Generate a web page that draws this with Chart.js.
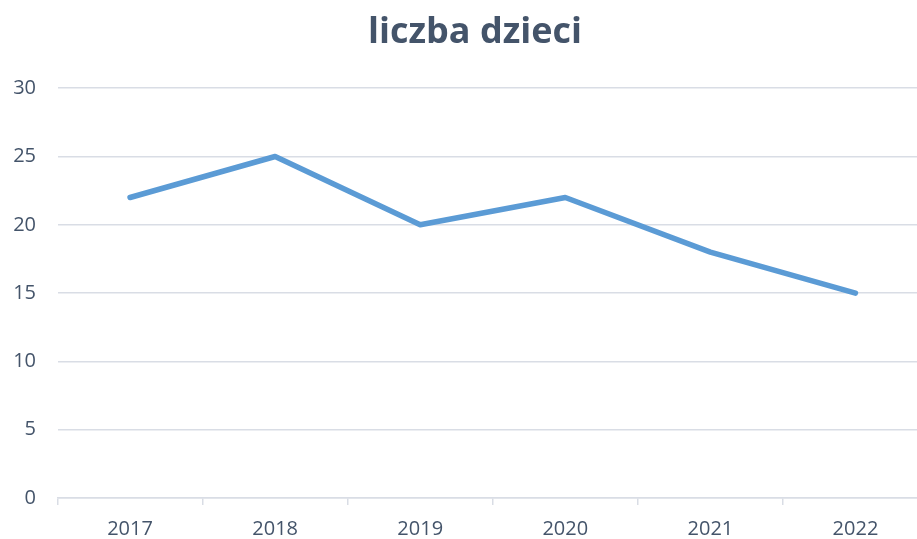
<!DOCTYPE html>
<html><head><meta charset="utf-8">
<script src="https://cdn.jsdelivr.net/npm/chart.js@4"></script>
<style>html,body{margin:0;padding:0;overflow:hidden;background:#fff;width:917px;height:539px}</style>
</head><body>
<canvas id="c" width="950" height="539"></canvas>
<script>
const categories = ['2017','2018','2019','2020','2021','2022'];
const values = [22, 25, 20, 22, 18, 15];
const yTicks = [0, 5, 10, 15, 20, 25, 30];
const titleText = 'liczba dzieci';

const textColor = '#44546A';
const gridColor = '#D9DDE5';
const centerTitle = {
  id: 'centerTitle',
  beforeDraw(chart) { if (chart.titleBlock) { chart.titleBlock.left = 22; } }
};
new Chart(document.getElementById('c'), {
  type: 'line',
  data: { labels: categories, datasets: [{ data: values, borderColor: '#5B9BD5', borderWidth: 5.5, pointRadius: 0, borderCapStyle: 'round', borderJoinStyle: 'round', tension: 0 }] },
  plugins: [centerTitle],
  options: {
    responsive: false, animation: false,
    layout: { padding: { left: 0, right: 22, top: 0, bottom: 0 } },
    plugins: {
      legend: { display: false }, tooltip: { enabled: false },
      title: { display: true, text: titleText, color: textColor, font: { family: 'Open Sans', size: 36, weight: 'bold', lineHeight: 1.2 }, padding: { top: 11, bottom: 34 } }
    },
    scales: {
      x: {
        offset: true,
        afterFit: s => { s.height = 41; },
        grid: { offset: true, drawOnChartArea: false, color: gridColor, tickLength: 7, lineWidth: 1.5 },
        border: { color: gridColor, width: 1.5 },
        ticks: { color: textColor, font: { family: 'Open Sans', size: 20, lineHeight: 1.2 }, padding: 12 }
      },
      y: {
        min: 0, max: 30,
        afterBuildTicks: s => { s.ticks = yTicks.map(v => ({ value: v })); },
        afterFit: s => { s.width = 57.5; },
        grid: { color: gridColor, lineWidth: 1.5, drawTicks: false },
        border: { display: false },
        ticks: { color: textColor, font: { family: 'Open Sans', size: 20 }, padding: 21.5 }
      }
    }
  }
});
</script>
</body></html>
